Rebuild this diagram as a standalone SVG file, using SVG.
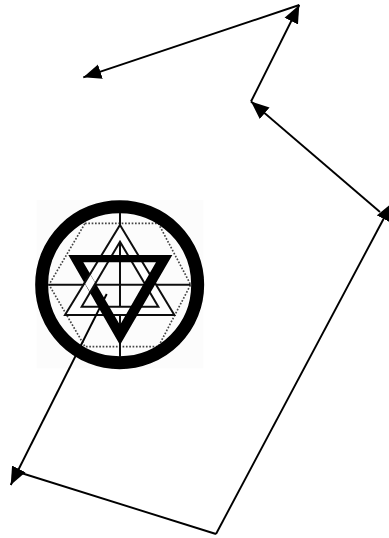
<svg xmlns="http://www.w3.org/2000/svg" width="389" height="538" viewBox="0 0 389 538">
<style>
.c{fill:none;stroke:#000;stroke-width:1.9}
.e{fill:none;stroke:#111;stroke-width:6}
.d{fill:none;stroke:#444;stroke-width:5;stroke-dasharray:5 5}
</style>
<defs>
<marker id="arrow" markerUnits="userSpaceOnUse" markerWidth="20" markerHeight="16" refX="18" refY="8" orient="auto"><path d="M0 0.5L18 8L0 15.5Z" fill="#000"/></marker>
<filter id="soft" x="-5%" y="-5%" width="110%" height="110%"><feGaussianBlur stdDeviation="1.5"/></filter>
</defs>
<rect width="389" height="538" fill="#fff"/>
<g id="emblem" transform="translate(25 190) scale(.33333)" filter="url(#soft)">
<rect x="35" y="30" width="500" height="505" fill="#fcfcfc"/>
<path class="d" d="M180 100H400L497 284L400 470H180L72 284Z"/>
<path class="e" d="M285 65V500M70 284H497"/>
<path d="M285 105L448 375H120ZM285 155L170 350H400Z" fill="#fff" fill-rule="evenodd" stroke="#111" stroke-width="6"/>
<path d="M130 195H442L285 465ZM175 217L285 405L393 217Z" fill="#000" fill-rule="evenodd"/>
<path d="M179 279L195 252L211.5 279.6L195.500 307Z" fill="#fff"/>
<path d="M177 282L197 249M193.500 310L213.500 276" fill="none" stroke="#111" stroke-width="6"/>
<circle cx="284" cy="284" r="234" fill="none" stroke="#000" stroke-width="39"/>
</g>
<g id="connectors">
<path class="c" marker-end="url(#arrow)" d="M106.700 294L10.700 485"/>
<path class="c" d="M18 472L216 534"/>
<path class="c" marker-end="url(#arrow)" d="M216 534L392 203"/>
<path class="c" marker-end="url(#arrow)" d="M380 212L251 101.500"/>
<path class="c" marker-end="url(#arrow)" d="M251 101.500L299.300 5"/>
<path class="c" marker-end="url(#arrow)" d="M299.300 5L83.300 77.300"/>
</g>
</svg>
